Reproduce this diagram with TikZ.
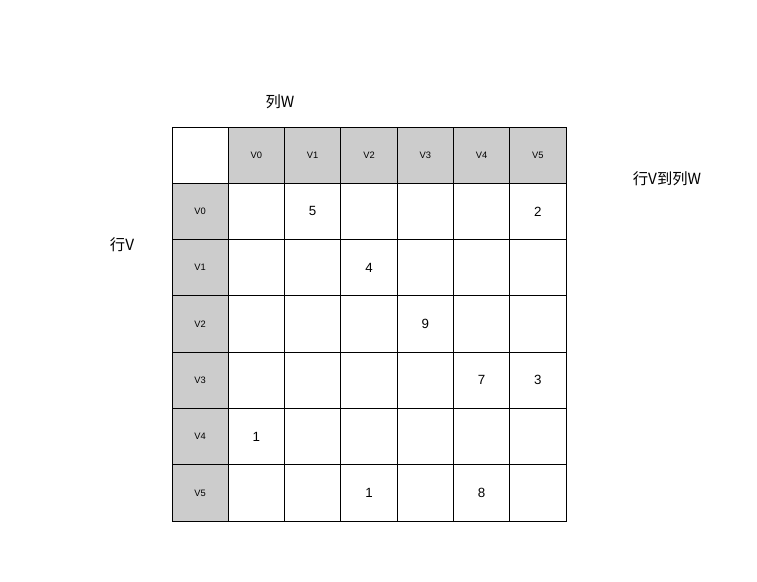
\documentclass[tikz,border=0pt]{standalone}
\usepackage{fontspec}
\setmainfont{Liberation Sans}
\newfontfamily\cjk{Noto Sans CJK SC}
\usetikzlibrary{positioning}
\definecolor{headgray}{HTML}{CCCCCC}
\tikzset{
  cell/.style={draw=black, line width=0.6pt, minimum size=56.3*0.75pt, inner sep=0pt, font=\fontsize{7}{8}\selectfont},
  head/.style={cell, fill=headgray},
  title/.style={font=\cjk\fontsize{11.5}{13}\selectfont}
}
\begin{document}
\begin{tikzpicture}[x=0.75pt, y=-0.75pt]
				\useasboundingbox (0,0) rectangle (757,582);
				% corner and headers
				\node[cell] (c) at (200.1,155.1) {};
				\foreach \i in {0,...,5} {
					\node[head] (h\i) at ({256.4+56.3*\i},155.1) {V\i};
					\node[head] (r\i) at (200.1,{211.4+56.3*\i}) {V\i};
				}
				% body
				\foreach \i in {0,...,5} {
					\foreach \j in {0,...,5} {
						\node[cell] (m\i\j) at ({256.4+56.3*\j},{211.4+56.3*\i}) {};
					}
				}
				% weights
				\node at (m01) {5};
				\node at (m05) {2};
				\node at (m12) {4};
				\node at (m23) {9};
				\node at (m34) {7};
				\node at (m35) {3};
				\node at (m40) {1};
				\node at (m52) {1};
				\node at (m54) {8};
				
				\node[title] (colW) at (280,102) {列W};
				\node[title] (rowV) at (122,245) {行V};
				\node[title] (vw) at (667,179) {行V到列W};
\end{tikzpicture}
\end{document}
